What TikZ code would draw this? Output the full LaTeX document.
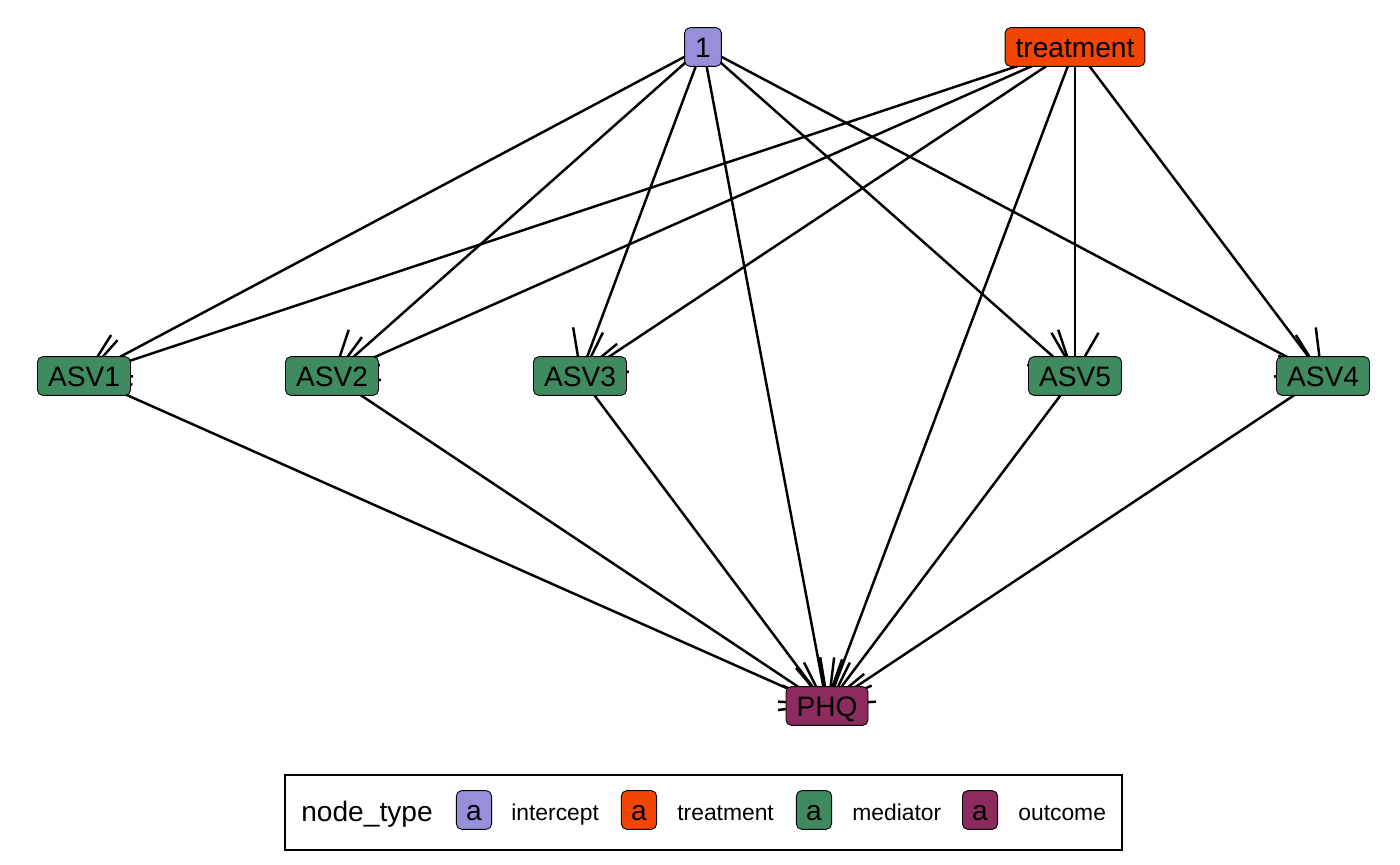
\documentclass[tikz,border=0pt]{standalone}
\usepackage{fontspec}
\setmainfont{Liberation Sans}
\usetikzlibrary{arrows.meta,backgrounds}

\definecolor{interceptcol}{RGB}{149,144,217}
\definecolor{treatmentcol}{RGB}{242,68,2}
\definecolor{mediatorcol}{RGB}{64,138,96}
\definecolor{outcomecol}{RGB}{139,43,94}

\tikzstyle{vertex}=[
    rectangle,
    rounded corners=3pt,
    line width=0.5pt,
    draw=black,
    inner xsep=6pt,
    inner ysep=0pt,
    minimum height=22pt,
    text height=11.5pt,
    text depth=0pt,
    font=\fontsize{16}{19}\selectfont
]
\tikzstyle{intercept}=[vertex, fill=interceptcol]
\tikzstyle{treatment}=[vertex, fill=treatmentcol]
\tikzstyle{mediator}=[vertex, fill=mediatorcol]
\tikzstyle{outcome}=[vertex, fill=outcomecol]
\tikzstyle{key}=[
    vertex,
    inner xsep=0pt,
    minimum width=20pt,
    minimum height=22pt,
    text height=12.5pt
]
\tikzstyle{keylabel}=[
    anchor=base west,
    inner sep=0pt,
    font=\fontsize{13}{15}\selectfont
]

\begin{document}
\begin{tikzpicture}[x=0.02cm,y=-0.02cm,>={Straight Barb[angle=60:0.94cm]}]
    \useasboundingbox (0,0) rectangle (1400,865);

    % TOP LAYER
    \node (one) [intercept] at (703,47) {1};
    \node (treat) [treatment] at (1075,47) {treatment};
    % MEDIATOR LAYER
    \node (asv_1) [mediator] at (84,376) {ASV1};
    \node (asv_2) [mediator] at (332,376) {ASV2};
    \node (asv_3) [mediator] at (580,376) {ASV3};
    \node (asv_5) [mediator] at (1075,376) {ASV5};
    \node (asv_4) [mediator] at (1323,376) {ASV4};
    % OUTCOME LAYER
    \node (phq) [outcome] at (827,706) {PHQ};

    \begin{pgfonlayer}{background}
    \path[->]
    % Connections from intercept to mediators
    (one.center) edge[line width=1.4pt] (asv_1.center)
    (one.center) edge[line width=1.4pt] (asv_2.center)
    (one.center) edge[line width=1.4pt] (asv_3.center)
    (one.center) edge[line width=1.4pt] (asv_5.center)
    (one.center) edge[line width=1.4pt] (asv_4.center)

    % Connections from treatment to mediators
    (treat.center) edge[line width=1.4pt] (asv_1.center)
    (treat.center) edge[line width=1.4pt] (asv_2.center)
    (treat.center) edge[line width=1.4pt] (asv_3.center)
    (treat.center) edge[line width=1.4pt] (asv_5.center)
    (treat.center) edge[line width=1.4pt] (asv_4.center)

    % Direct connections to outcome
    (one.center) edge[line width=1.4pt] (phq.center)
    (treat.center) edge[line width=1.4pt] (phq.center)

    % Connections from mediators to outcome
    (asv_1.center) edge[line width=1.4pt] (phq.center)
    (asv_2.center) edge[line width=1.4pt] (phq.center)
    (asv_3.center) edge[line width=1.4pt] (phq.center)
    (asv_5.center) edge[line width=1.4pt] (phq.center)
    (asv_4.center) edge[line width=1.4pt] (phq.center)
    ;
    \end{pgfonlayer}

    % LEGEND
    \node (legend) [draw=black, line width=0.8pt, minimum width=16.74cm, minimum height=1.5cm, inner sep=0pt] at (703.5,812.5) {};
    \node (legend_title) [anchor=base west, inner sep=0pt, font=\fontsize{16}{19}\selectfont] at (301,821.5) {node\_type};
    \node (key_1) [key, fill=interceptcol] at (474,810) {a};
    \node (lab_1) [keylabel] at (511,820.5) {intercept};
    \node (key_2) [key, fill=treatmentcol] at (639,810) {a};
    \node (lab_2) [keylabel] at (677,820.5) {treatment};
    \node (key_3) [key, fill=mediatorcol] at (814,810) {a};
    \node (lab_3) [keylabel] at (852,820.5) {mediator};
    \node (key_4) [key, fill=outcomecol] at (980,810) {a};
    \node (lab_4) [keylabel] at (1018,820.5) {outcome};
\end{tikzpicture}
\end{document}
